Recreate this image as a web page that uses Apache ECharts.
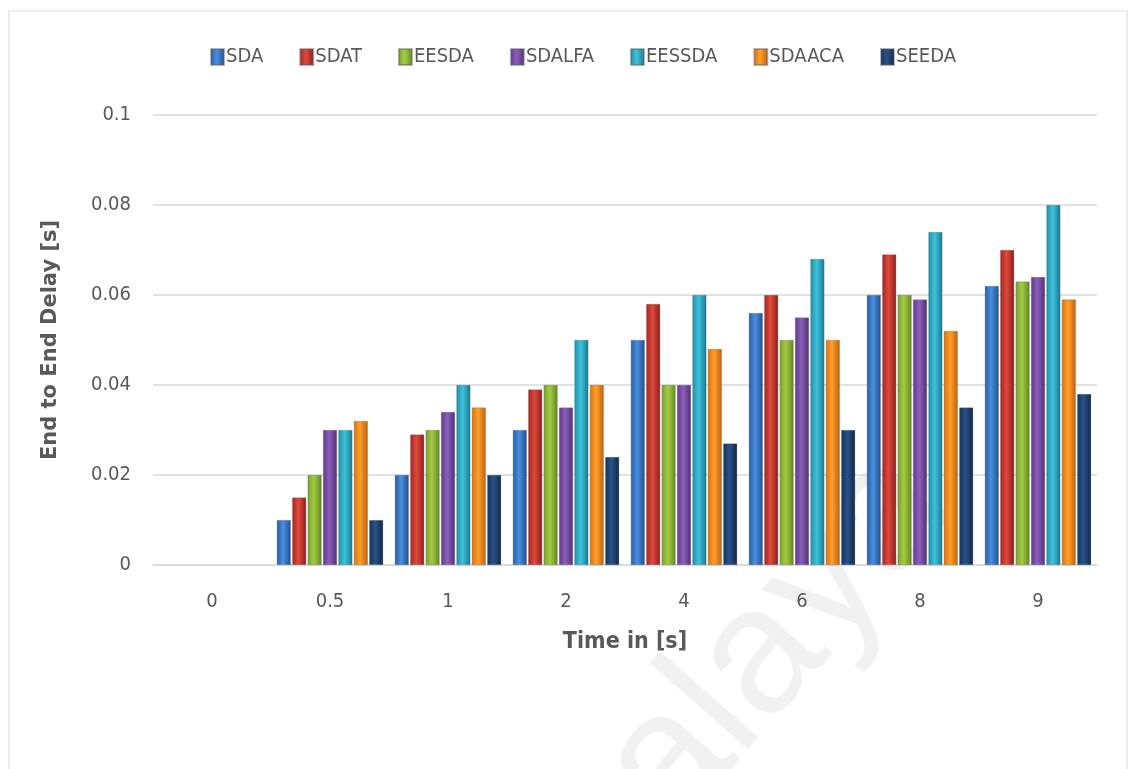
<!DOCTYPE html>
<html><head><meta charset="utf-8">
<script src="https://cdn.jsdelivr.net/npm/echarts@6/dist/echarts.min.js"></script>
<style>html,body{margin:0;padding:0;background:#fff}#c{width:1131px;height:769px}</style>
</head><body><div id="c"></div>
<script>
const categories = ['0','0.5','1','2','4','6','8','9'];
const SDA    = [0, 0.010, 0.020, 0.030, 0.050, 0.056, 0.060, 0.062];
const SDAT   = [0, 0.015, 0.029, 0.039, 0.058, 0.060, 0.069, 0.070];
const EESDA  = [0, 0.020, 0.030, 0.040, 0.040, 0.050, 0.060, 0.063];
const SDALFA = [0, 0.030, 0.034, 0.035, 0.040, 0.055, 0.059, 0.064];
const EESSDA = [0, 0.030, 0.040, 0.050, 0.060, 0.068, 0.074, 0.080];
const SDAACA = [0, 0.032, 0.035, 0.040, 0.048, 0.050, 0.052, 0.059];
const SEEDA  = [0, 0.010, 0.020, 0.024, 0.027, 0.030, 0.035, 0.038];
const yTicks = [0, 0.02, 0.04, 0.06, 0.08, 0.1];

const names = ['SDA','SDAT','EESDA','SDALFA','EESSDA','SDAACA','SEEDA'];
const data = [SDA, SDAT, EESDA, SDALFA, EESSDA, SDAACA, SEEDA];
const cols = [
  ['#285ba3','#4a8fe0','#1f4f90'],
  ['#a8231f','#dd4a3c','#8e1c18'],
  ['#789e2c','#a3cc45','#63871f'],
  ['#5f3a88','#8c5fbd','#4f2e74'],
  ['#1e8ea8','#3fc2dc','#18788f'],
  ['#d9720e','#ff9e2c','#c0620a'],
  ['#14325a','#2a5288','#0f2746']
];
const font = "'DejaVu Sans Condensed','Liberation Sans',sans-serif";
function grad(c){
  return new echarts.graphic.LinearGradient(0,0,1,0,[
    {offset:0,color:c[0]},{offset:0.45,color:c[1]},{offset:1,color:c[2]}]);
}
const series = names.map((n,i)=>({
  name:n, type:'bar', barWidth:14, barGap:'10%',
  data:data[i].map(v => v === 0 ? {value:v, itemStyle:{borderWidth:0, opacity:0}} : v),
  itemStyle:{color:grad(cols[i]), borderColor:'rgba(90,90,90,0.45)', borderWidth:0.6}
}));
const chart = echarts.init(document.getElementById('c'), null, {renderer:'canvas'});
chart.setOption({
  animation:false,
  backgroundColor:'#fff',
  textStyle:{fontFamily:font},
  graphic:[
    {type:'rect', shape:{x:9,y:11,width:1118,height:770}, style:{fill:'none',stroke:'#d9d9d9',lineWidth:1}, silent:true, z:-1},
    {type:'text', x:704, y:860, rotation:0.85, style:{text:'alaya', fontSize:180, fontFamily:'Liberation Sans', fill:'rgba(0,0,0,0.055)', verticalAlign:'bottom'}, silent:true, z:-1}
  ],
  legend:{
    top:42, left:205, itemWidth:13, itemHeight:16, itemGap:36,
    icon:'rect',
    textStyle:{fontSize:20, color:'#595959', fontFamily:font, padding:[0,0,0,-3]},
    data:names
  },
  grid:{left:153, right:34, top:115, bottom:204, containLabel:false},
  xAxis:{
    type:'category', data:categories,
    axisLine:{lineStyle:{color:'#d9d9d9', width:1.5}},
    axisTick:{show:false},
    axisLabel:{fontSize:20, color:'#595959', margin:27, fontFamily:font},
    name:'Time in [s]', nameLocation:'middle', nameGap:66,
    nameTextStyle:{fontSize:23, fontWeight:'bold', color:'#595959', fontFamily:font}
  },
  yAxis:{
    type:'value', min:0, max:0.1, interval:0.02,
    axisLine:{show:false}, axisTick:{show:false},
    splitLine:{lineStyle:{color:'#d9d9d9', width:1.5}},
    axisLabel:{fontSize:20, color:'#595959', margin:22, fontFamily:font,
      formatter:v=>{const t=yTicks.find(x=>Math.abs(x-v)<1e-9); return t===undefined?'':String(t);}},
    name:'End to End Delay [s]', nameLocation:'middle', nameGap:92, nameRotate:90,
    nameTextStyle:{fontSize:21, fontWeight:'bold', color:'#595959', fontFamily:"'DejaVu Sans','Liberation Sans',sans-serif"}
  },
  series:series
});
</script></body></html>
